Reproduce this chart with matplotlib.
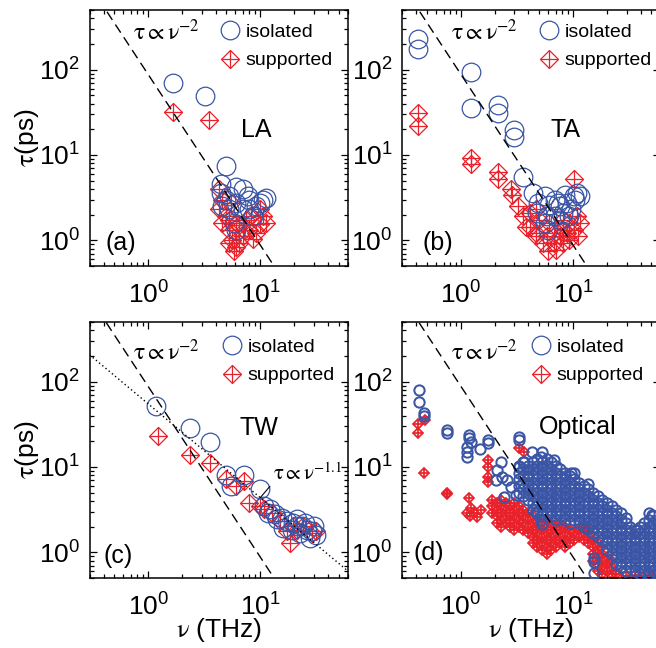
import matplotlib
matplotlib.use('Agg')
import numpy as np
import matplotlib.pyplot as plt
from matplotlib.lines import Line2D
from matplotlib.ticker import NullFormatter, LogLocator

plt.rcParams['font.family'] = ['Liberation Sans', 'DejaVu Sans']
plt.rcParams['mathtext.fontset'] = 'custom'
plt.rcParams['mathtext.rm'] = 'Liberation Sans'
plt.rcParams['mathtext.it'] = 'Liberation Sans:italic'
plt.rcParams['mathtext.bf'] = 'Liberation Sans:bold'

BLUE = '#3A55A5'
RED = '#E8212B'

# ---------------- data ----------------
# reference power laws
C_nu2 = 88.0       # tau = C_nu2 * nu^-2
C_nu11 = 55.0      # tau = C_nu11 * nu^-1.1
exp_nu11 = -1.1
ref_nu = np.array([0.3, 60.0])

# (a) LA
a_iso_nu = [1.67, 3.24, 4.9, 4.43, 6.06, 5.27, 6.96, 8.0, 10.6, 9.85, 9.2, 4.58, 5.27,
            6.06, 6.96, 8.0, 8.6, 5.85, 6.06, 4.9, 11.3, 7.8, 4.43]
a_iso_tau = [70, 48.8, 7.5, 4.57, 4.16, 3.3, 4.0, 3.0, 3.0, 2.76, 2.52, 2.52, 2.3,
             2.76, 2.3, 2.3, 1.92, 1.6, 1.33, 2.95, 3.17, 3.3, 3.6]
a_sup_nu = [1.67, 3.46, 4.27, 4.58, 4.91, 5.27, 5.65, 6.06, 6.96, 8.0, 9.2, 11.3, 10.6,
            9.85, 7.45, 6.06, 4.27, 4.58, 5.27, 6.5, 7.2, 8.3, 9.85, 5.45, 6.5, 5.27,
            5.85, 8.6]
a_sup_tau = [32.3, 25.8, 3.97, 2.95, 1.92, 1.33, 1.01, 0.84, 1.12, 1.33, 1.23, 1.6, 1.92,
             1.55, 1.73, 1.6, 2.3, 1.6, 0.92, 0.92, 1.33, 1.92, 2.3, 2.76, 1.5, 1.73,
             0.75, 1.05]

# (b) TA
b_iso_nu = [0.414, 0.414, 1.22, 1.22, 2.12, 2.12, 3.0, 3.0, 3.57, 4.4, 4.88, 5.6, 6.15,
            6.9, 7.63, 8.8, 10.1, 10.8, 10.4, 8.2, 9.6, 5.8, 5.6, 6.0, 4.75, 6.9, 7.6,
            9.2, 11.6, 8.5, 7.3]
b_iso_tau = [229, 175, 94, 36, 39, 31, 19.6, 16.3, 5.46, 3.6, 2.76, 3.3, 2.6,
             3.0, 2.52, 2.76, 3.3, 3.6, 3.0, 2.1, 2.3, 1.92, 1.6, 1.33, 2.1, 1.92, 1.73,
             1.92, 3.3, 3.4, 2.76]
b_sup_nu = [0.414, 0.414, 1.22, 1.22, 2.12, 2.12, 2.8, 2.88, 3.2, 3.8, 10.1, 3.6, 4.1,
            4.7, 5.4, 6.0, 6.7, 7.6, 8.8, 10.1, 11.6, 10.8, 8.2, 6.15, 5.0, 4.7, 6.7,
            5.8, 4.7, 8.2, 7.0, 9.2, 11.0, 8.2, 9.2, 4.1]
b_sup_tau = [31, 22, 9.2, 7.9, 6.3, 5.2, 3.97, 3.4, 2.52, 1.45, 5.2, 1.92, 1.45,
             1.21, 0.92, 0.74, 0.92, 1.12, 1.21, 1.33, 1.6, 1.92, 1.73, 1.6, 1.73, 2.3, 1.21,
             1.12, 1.12, 0.92, 0.78, 1.0, 1.12, 1.33, 1.6, 2.1]

# (c) TW
c_iso_nu = [1.18, 2.37, 3.59, 4.91, 5.45, 7.2, 9.86, 10.9, 11.7, 13.5, 15.5, 17.2, 19.7,
            21.2, 23.6, 26.1, 29.0, 31.1, 28.0, 16.1, 19.1, 22.8, 25.3, 21.2, 30.1, 14.0,
            12.2]
c_iso_tau = [51.5, 28.5, 19.4, 7.95, 6.04, 7.95, 5.52, 3.49, 2.91, 2.78, 2.54, 2.32, 2.22,
             2.02, 2.02, 1.85, 1.76, 1.61, 1.47, 1.93, 1.85, 1.68, 2.22, 2.43, 2.02, 2.43,
             3.19]
c_sup_nu = [1.22, 2.37, 3.59, 4.91, 6.06, 7.2, 8.0, 9.86, 10.9, 12.6, 15.0, 18.5, 17.2,
            21.2, 29.0, 31.5, 24.3, 19.7]
c_sup_tau = [23.3, 13.7, 11.2, 7.25, 6.04, 6.9, 3.83, 3.49, 3.19, 2.91, 2.32, 1.28, 1.76,
             1.85, 1.68, 1.76, 2.02, 2.02]

# (d) Optical: isolated, scattered points
d_iso_nu = [0.42, 0.42, 0.47, 0.47, 0.755, 0.755, 1.18, 1.18, 1.24, 1.14, 1.14, 1.14,
            1.48, 1.74, 1.74, 3.3, 3.3, 15.4, 15.4, 15.4, 37.5, 51.0,
            2.26, 2.11, 2.04, 2.34, 2.59, 2.78, 2.42, 3.08, 3.3, 3.65, 4.33, 5.32,
            5.14, 6.76, 9.5, 5.14, 5.32, 4.64]
d_iso_tau = [80, 57, 43, 40, 27, 25, 23.7, 21.7, 19.8, 17.3, 15.0, 13.2,
             16.1, 20.7, 18.9, 22.7, 20.7, 0.85, 0.78, 0.57, 1.83, 2.74,
             11.5, 9.2, 7.0, 7.7, 7.0, 5.9, 4.5, 4.7, 10.1, 11.5, 15.1, 15.1,
             13.2, 12.1, 8.4, 2.39, 2.15, 3.0]
# (d) isolated, dense band read column by column
d_iso_col_nu = [3.3, 3.6, 4.0, 4.4, 4.8, 5.3, 5.8, 6.4, 7.0, 7.7, 8.5, 9.4, 10.3, 11.3,
                12.5, 13.7, 15.1, 16.6, 18.3, 20.1, 22.1, 24.3, 26.7, 29.4, 32.4, 35.6,
                39.2, 43.1, 47.4, 52.1, 57.3]
d_iso_col_tau = [
    [5.0, 6.0, 7.2, 8.6, 10.3],
    [4.55, 5.45, 6.55, 7.85, 9.4, 11.3],
    [4.15, 5.0, 6.0, 7.2, 8.6, 10.3],
    [3.15, 3.8, 4.55, 5.45, 6.55, 7.85, 9.4, 11.3],
    [2.9, 3.45, 4.15, 5.0, 6.0, 7.2, 8.6, 10.3, 12.4],
    [2.63, 3.15, 3.8, 4.55, 5.45, 6.55, 7.85, 9.4, 11.3],
    [2.9, 3.45, 4.15, 5.0, 6.0, 7.2, 8.6, 10.3, 12.4],
    [2.63, 3.15, 3.8, 4.55, 5.45, 6.55, 7.85, 9.4, 11.3],
    [2.4, 2.9, 3.45, 4.15, 5.0, 6.0, 7.2, 8.6, 10.3],
    [2.63, 3.15, 3.8, 4.55, 5.45, 6.55, 7.85, 9.4],
    [2.4, 2.9, 3.45, 4.15, 5.0, 6.0, 7.2, 8.6],
    [2.2, 2.63, 3.15, 3.8, 4.55, 5.45, 6.55, 7.85],
    [2.4, 2.9, 3.45, 4.15, 5.0, 6.0, 7.2, 8.4],
    [2.2, 2.63, 3.15, 3.8, 4.55, 5.45, 6.55],
    [2.0, 2.4, 2.9, 3.45, 4.15, 5.0, 6.0],
    [1.9, 2.2, 2.63, 3.15, 3.8, 4.55, 5.45, 6.3],
    [1.67, 2.0, 2.4, 2.9, 3.45, 4.15, 5.0],
    [1.52, 1.83, 2.2, 2.63, 3.15, 3.8, 4.55],
    [1.39, 1.67, 2.0, 2.4, 2.9, 3.45, 4.15],
    [1.06, 1.27, 1.52, 1.83, 2.2, 2.63, 3.15, 3.8],
    [0.96, 1.16, 1.39, 1.67, 2.0, 2.4, 2.9, 3.45],
    [0.73, 0.88, 1.06, 1.27, 1.52, 1.83, 2.2, 2.63, 3.15],
    [0.67, 0.8, 0.96, 1.16, 1.39, 1.67, 2.0, 2.4, 2.9],
    [0.61, 0.73, 0.88, 1.06, 1.27, 1.52, 1.83, 2.2, 2.55],
    [0.67, 0.8, 0.96, 1.16, 1.39, 1.67, 2.0],
    [0.61, 0.73, 0.88, 1.06, 1.27, 1.52, 1.83],
    [0.56, 0.67, 0.8, 0.96, 1.16, 1.39, 1.67, 2.0],
    [0.61, 0.73, 0.88, 1.06, 1.27, 1.52, 1.83, 2.2],
    [0.56, 0.67, 0.8, 0.96, 1.16, 1.39, 1.67, 2.0, 2.4, 2.9],
    [0.61, 0.73, 0.88, 1.06, 1.27, 1.52, 1.83, 2.2, 2.63],
    [0.56, 0.67, 0.8, 0.96, 1.16, 1.39, 1.67, 2.0, 2.4],
]
# (d) supported, scattered points
d_sup_nu = [0.41, 0.41, 0.48, 0.47, 0.755, 0.755, 1.18, 1.22, 1.14, 1.5, 1.4, 1.3, 1.2,
            1.74, 1.74, 1.74, 1.74, 3.3, 3.65]
d_sup_tau = [31.9, 24.8, 35.6, 8.4, 5.0, 4.8, 4.3, 3.3, 2.86, 3.1, 2.6, 2.9, 2.7,
             12.1, 10.1, 7.7, 6.7, 16.5, 15.1]
# (d) supported, dense band read column by column
d_sup_col_nu = [1.9, 2.1, 2.3, 2.5, 2.75, 3.0, 3.3, 3.6, 4.0, 4.4, 4.8, 5.3, 5.8, 6.4,
                7.0, 7.7, 8.5, 9.4, 10.3, 11.3, 12.5, 13.7, 15.1, 16.6, 18.3, 20.1,
                22.1, 24.3, 29.4, 35.6, 43.1, 50.0, 56.0]
d_sup_col_tau = [
    [2.9, 3.45, 4.15],
    [2.2, 2.63, 3.15, 3.8],
    [2.0, 2.4, 2.9, 3.45, 4.15],
    [2.2, 2.63, 3.15, 3.8],
    [2.0, 2.4, 2.9, 3.45],
    [1.83, 2.2, 2.63, 3.15, 3.8],
    [2.0, 2.4, 2.9, 3.45],
    [1.83, 2.2, 2.63, 3.15],
    [1.67, 2.0, 2.4, 2.9],
    [1.27, 1.52, 1.83, 2.2, 2.63],
    [1.16, 1.39, 1.67, 2.0, 2.4],
    [1.06, 1.27, 1.52, 1.83, 2.2],
    [0.96, 1.16, 1.39, 1.67, 2.0, 2.4],
    [1.06, 1.27, 1.52, 1.83, 2.2],
    [1.16, 1.39, 1.67, 2.0],
    [1.27, 1.52, 1.83, 2.2],
    [1.16, 1.39, 1.67, 2.0],
    [1.27, 1.52, 1.83],
    [1.39, 1.67],
    [1.52, 1.83],
    [1.39, 1.67, 2.0],
    [1.27, 1.52, 1.83],
    [0.8, 0.96, 1.16, 1.39],
    [0.61, 0.73, 0.88, 1.06, 1.27],
    [0.56, 0.67, 0.8, 0.96, 1.16],
    [0.61, 0.73, 0.88],
    [0.56, 0.67, 0.8],
    [0.55, 0.61],
    [0.53],
    [0.54],
    [0.52],
    [0.53],
    [0.55],
]


def flatten(col_nu, col_tau):
    xs, ys = [], []
    for n, ts in zip(col_nu, col_tau):
        for t in ts:
            xs.append(n)
            ys.append(t)
    return xs, ys


dn, dt = flatten(d_iso_col_nu, d_iso_col_tau)
d_iso_nu_all = d_iso_nu + dn
d_iso_tau_all = d_iso_tau + dt
sn, st = flatten(d_sup_col_nu, d_sup_col_tau)
d_sup_nu_all = d_sup_nu + sn
d_sup_tau_all = d_sup_tau + st

panel_letters = ['(a)', '(b)', '(c)', '(d)']
panel_names = ['LA', 'TA', 'TW', 'Optical']
legend_labels = ['isolated', 'supported']

# ---------------- figure ----------------
W, H = 656.0, 648.0
fig = plt.figure(figsize=(W / 100, H / 100), dpi=100)

AW, AH = 258.0, 256.0
boxes = [(89.5, 10), (402.3, 10), (89.5, 322), (402.3, 322)]
axes = [fig.add_axes([l / W, 1 - (t + AH) / H, AW / W, AH / H]) for l, t in boxes]

big = dict(circ=13.4, dia=8.7, plus=12.3, mew=0.9, mew_o=0.9)
small = dict(circ=7.4, dia=5.1, plus=7.2, mew=1.25, mew_o=1.45)

def draw_sup(ax, x, y, s):
    ax.plot(x, y, ls='none', marker='D', mfc='none', mec=RED, ms=s['dia'], mew=s['mew'], zorder=2)
    ax.plot(x, y, ls='none', marker='+', color=RED, ms=s['plus'], mew=s['mew'], zorder=2)

def draw_iso(ax, x, y, s):
    ax.plot(x, y, ls='none', marker='o', mfc='none', mec=BLUE, ms=s['circ'], mew=s['mew_o'], zorder=3)

datasets = [
    (a_iso_nu, a_iso_tau, a_sup_nu, a_sup_tau, big),
    (b_iso_nu, b_iso_tau, b_sup_nu, b_sup_tau, big),
    (c_iso_nu, c_iso_tau, c_sup_nu, c_sup_tau, big),
    (d_iso_nu_all, d_iso_tau_all, d_sup_nu_all, d_sup_tau_all, small),
]

letter_pos = [(0.062, 0.09), (0.078, 0.09), (0.056, 0.084), (0.045, 0.098)]
name_pos = [(0.645, 0.531), (0.634, 0.531), (0.657, 0.586), (0.681, 0.591)]
law_pos = [(0.167, 0.914), (0.189, 0.914), (0.167, 0.883), (0.189, 0.883)]
leg_pos = [(140.5, 22), (146.9, 22), (142.8, 25), (138.4, 25)]

LAW2 = r'$\mathrm{\tau{\propto}\nu}^{-2}$'
LAW11 = r'$\mathrm{\tau{\propto}\nu}^{-1.1}$'

for i, ax in enumerate(axes):
    iso_x, iso_y, sup_x, sup_y, s = datasets[i]
    ax.set_xscale('log')
    ax.set_yscale('log')
    ax.set_xlim(0.3, 60)
    ax.set_ylim(0.5, 500)

    draw_sup(ax, sup_x, sup_y, s)
    draw_iso(ax, iso_x, iso_y, s)

    ax.plot(ref_nu, C_nu2 * ref_nu ** -2.0, color='k', lw=1.0, ls=(0, (7, 4)), zorder=4)
    if i == 2:
        ax.plot(ref_nu, C_nu11 * ref_nu ** exp_nu11, color='k', lw=1.0, ls=(0, (1, 2)), zorder=4)
        ax.annotate(LAW11, xy=(10.0, C_nu11 * 10.0 ** exp_nu11),
                    xytext=(0.71, 0.41), textcoords='axes fraction', ha='left', va='center',
                    fontsize=15, math_fontfamily='stix', annotation_clip=False,
                    arrowprops=dict(arrowstyle='-', lw=0.8, color='k', relpos=(0.03, 0.15),
                                    shrinkA=0, shrinkB=0), zorder=5)

    ax.text(*law_pos[i], LAW2, transform=ax.transAxes,
            ha='left', va='center', fontsize=17, math_fontfamily='stix', zorder=5)
    ax.text(*letter_pos[i], panel_letters[i], transform=ax.transAxes, ha='left', va='center',
            fontsize=18, zorder=5)
    ax.text(*name_pos[i], panel_names[i], transform=ax.transAxes, ha='center', va='center',
            fontsize=18, zorder=5)

    # legend
    h_iso = Line2D([], [], ls='none', marker='o', mfc='none', mec=BLUE, ms=big['circ'], mew=0.9)
    h_d = Line2D([], [], ls='none', marker='D', mfc='none', mec=RED, ms=big['dia'], mew=0.9)
    h_p = Line2D([], [], ls='none', marker='+', color=RED, ms=big['plus'], mew=0.9)
    fs = 14
    hl = 1.0
    cx, cy = leg_pos[i]
    bx = (cx - hl * fs * 100 / 72 / 2) / AW
    by = 1 - (cy - 8.5) / AH
    ax.legend([h_iso, (h_d, h_p)], legend_labels, loc='upper left', bbox_to_anchor=(bx, by),
              frameon=False, borderpad=0, borderaxespad=0, handlelength=hl,
              handletextpad=0.3, labelspacing=0.55, fontsize=fs)

    for sp in ax.spines.values():
        sp.set_linewidth(1.1)
    ax.tick_params(which='both', direction='in', top=True, right=True, width=0.9)
    ax.tick_params(which='major', length=5.0, labelsize=19)
    ax.tick_params(which='minor', length=2.8)
    ax.tick_params(axis='x', which='major', pad=11)
    ax.tick_params(axis='y', which='major', pad=7)
    ax.xaxis.set_minor_locator(LogLocator(base=10, subs=np.arange(2, 10) * 1.0, numticks=20))
    ax.yaxis.set_minor_locator(LogLocator(base=10, subs=np.arange(2, 10) * 1.0, numticks=20))
    ax.xaxis.set_minor_formatter(NullFormatter())
    ax.yaxis.set_minor_formatter(NullFormatter())

    if i in (0, 2):
        ax.set_ylabel(r'$\mathrm{\tau}$(ps)', fontsize=19, math_fontfamily='stix', labelpad=-1.5)
    if i in (2, 3):
        ax.set_xlabel(r'$\mathrm{\nu}$ (THz)', fontsize=19, math_fontfamily='stix', labelpad=-3)

fig.savefig('out.png', dpi=100)
